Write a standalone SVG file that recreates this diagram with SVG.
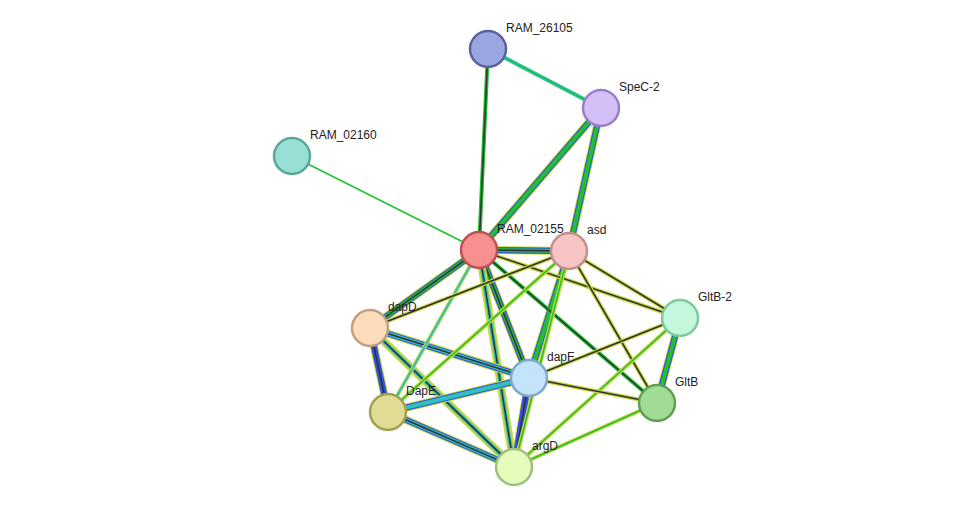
<svg xmlns="http://www.w3.org/2000/svg" width="976" height="513" viewBox="0 0 976 513">
<style>
.n{stroke-width:2.5}
text{font-family:"Liberation Sans",Arial,sans-serif;font-size:12px;fill:#222}
.a{stroke:#c8d840;stroke-width:8}
.b{stroke:#3050e0;stroke-width:6}
.c{stroke:#20c030;stroke-width:4}
.d{stroke:#303030;stroke-width:1.5}
.m{stroke:#d040d0;stroke-width:6}
.cy{stroke:#30c0c0;stroke-width:4}
.g{stroke:#20c030;stroke-width:1.5}
</style>
<g id="connectors" fill="none">
<line class="cy" x1="488" y1="49" x2="601" y2="108"/><line class="g" x1="488" y1="49" x2="601" y2="108"/>
<line class="c" x1="488" y1="49" x2="479" y2="250"/><line class="d" x1="488" y1="49" x2="479" y2="250"/>
<line class="g" x1="292" y1="156" x2="479" y2="250"/>
<g>
<line class="a" x1="601" y1="108" x2="479" y2="250"/><line class="b" x1="601" y1="108" x2="479" y2="250"/><line class="c" x1="601" y1="108" x2="479" y2="250"/>
<line class="a" x1="601" y1="108" x2="569" y2="251"/><line class="b" x1="601" y1="108" x2="569" y2="251"/><line class="c" x1="601" y1="108" x2="569" y2="251"/>
<line class="a" x1="479" y1="250" x2="569" y2="251"/><line class="m" x1="479" y1="250" x2="569" y2="251"/><line class="b" x1="479" y1="250" x2="569" y2="251"/><line class="c" x1="479" y1="250" x2="569" y2="251"/><line class="d" x1="479" y1="250" x2="569" y2="251"/>
<line class="a" x1="479" y1="250" x2="370" y2="328"/><line class="b" x1="479" y1="250" x2="370" y2="328"/><line class="c" x1="479" y1="250" x2="370" y2="328"/><line class="d" x1="479" y1="250" x2="370" y2="328"/>
<line class="a" x1="479" y1="250" x2="529" y2="378"/><line class="m" x1="479" y1="250" x2="529" y2="378"/><line class="b" x1="479" y1="250" x2="529" y2="378"/><line class="c" x1="479" y1="250" x2="529" y2="378"/><line class="d" x1="479" y1="250" x2="529" y2="378"/>
<line class="a" x1="479" y1="250" x2="514" y2="467"/><line class="cy" x1="479" y1="250" x2="514" y2="467"/><line class="d" x1="479" y1="250" x2="514" y2="467"/>
<line class="a" x1="569" y1="251" x2="529" y2="378"/><line class="b" x1="569" y1="251" x2="529" y2="378"/><line class="c" x1="569" y1="251" x2="529" y2="378"/>
<line class="a" x1="370" y1="328" x2="529" y2="378"/><line class="b" x1="370" y1="328" x2="529" y2="378"/><line class="cy" x1="370" y1="328" x2="529" y2="378"/><line class="d" x1="370" y1="328" x2="529" y2="378"/>
<line class="a" x1="370" y1="328" x2="388" y2="412"/><line class="b" x1="370" y1="328" x2="388" y2="412"/><line class="d" x1="370" y1="328" x2="388" y2="412"/>
<line class="a" x1="370" y1="328" x2="514" y2="467"/><line class="cy" x1="370" y1="328" x2="514" y2="467"/><line class="d" x1="370" y1="328" x2="514" y2="467"/>
<line class="a" x1="680" y1="318" x2="657" y2="403"/><line class="m" x1="680" y1="318" x2="657" y2="403"/><line class="b" x1="680" y1="318" x2="657" y2="403"/><line class="c" x1="680" y1="318" x2="657" y2="403"/>
<line class="a" x1="529" y1="378" x2="388" y2="412"/><line class="b" x1="529" y1="378" x2="388" y2="412"/><line class="cy" x1="529" y1="378" x2="388" y2="412"/>
<line class="a" x1="529" y1="378" x2="514" y2="467"/><line class="m" x1="529" y1="378" x2="514" y2="467"/><line class="b" x1="529" y1="378" x2="514" y2="467"/><line class="d" x1="529" y1="378" x2="514" y2="467"/>
<line class="a" x1="388" y1="412" x2="514" y2="467"/><line class="b" x1="388" y1="412" x2="514" y2="467"/><line class="cy" x1="388" y1="412" x2="514" y2="467"/><line class="d" x1="388" y1="412" x2="514" y2="467"/>
</g>
<g>
<line class="c" stroke-width="4" x1="479" y1="250" x2="388" y2="412" style="stroke:#c8d840"/><line class="cy" style="stroke-width:2" x1="479" y1="250" x2="388" y2="412"/>
<line class="c" x1="479" y1="250" x2="680" y2="318" style="stroke:#c8d840"/><line class="d" x1="479" y1="250" x2="680" y2="318"/>
<line class="c" x1="479" y1="250" x2="657" y2="403"/><line class="d" x1="479" y1="250" x2="657" y2="403"/>
<line class="c" x1="569" y1="251" x2="370" y2="328" style="stroke:#c8d840"/><line class="d" x1="569" y1="251" x2="370" y2="328"/>
<line class="c" x1="569" y1="251" x2="680" y2="318" style="stroke:#c8d840"/><line class="d" x1="569" y1="251" x2="680" y2="318"/>
<line class="c" x1="569" y1="251" x2="388" y2="412" style="stroke:#c8d840"/><line class="g" x1="569" y1="251" x2="388" y2="412"/>
<line class="c" x1="569" y1="251" x2="657" y2="403" style="stroke:#c8d840"/><line class="d" x1="569" y1="251" x2="657" y2="403"/>
<line class="c" x1="569" y1="251" x2="514" y2="467" style="stroke:#c8d840"/><line class="g" x1="569" y1="251" x2="514" y2="467"/>
<line class="c" x1="680" y1="318" x2="529" y2="378" style="stroke:#c8d840"/><line class="d" x1="680" y1="318" x2="529" y2="378"/>
<line class="c" x1="680" y1="318" x2="514" y2="467" style="stroke:#c8d840"/><line class="g" x1="680" y1="318" x2="514" y2="467"/>
<line class="c" x1="529" y1="378" x2="657" y2="403" style="stroke:#c8d840"/><line class="d" x1="529" y1="378" x2="657" y2="403"/>
<line class="c" x1="657" y1="403" x2="514" y2="467" style="stroke:#c8d840"/><line class="g" x1="657" y1="403" x2="514" y2="467"/>
</g>
</g>
<g id="RAM_26105"><circle class="n" cx="488" cy="49" r="18" fill="#9ba5e0" stroke="#5a63a0"/><text x="506" y="32">RAM_26105</text></g>
<g id="SpeC-2"><circle class="n" cx="601" cy="108" r="18" fill="#d4bff7" stroke="#9a80c8"/><text x="619" y="91">SpeC-2</text></g>
<g id="RAM_02160"><circle class="n" cx="292" cy="156" r="18" fill="#98e0d6" stroke="#5aa898"/><text x="310" y="139">RAM_02160</text></g>
<g id="RAM_02155"><circle class="n" cx="479" cy="250" r="18" fill="#f99090" stroke="#c05050"/><text x="497" y="233">RAM_02155</text></g>
<g id="asd"><circle class="n" cx="569" cy="251" r="18" fill="#f8c4c4" stroke="#c09090"/><text x="587" y="234">asd</text></g>
<g id="dapD"><circle class="n" cx="370" cy="328" r="18" fill="#fddcbc" stroke="#c0a080"/><text x="388" y="311">dapD</text></g>
<g id="GltB-2"><circle class="n" cx="680" cy="318" r="18" fill="#c4f8dc" stroke="#80c8a0"/><text x="698" y="301">GltB-2</text></g>
<g id="dapF"><circle class="n" cx="529" cy="378" r="18" fill="#c4e4fc" stroke="#80a8c8"/><text x="547" y="361">dapF</text></g>
<g id="DapE"><circle class="n" cx="388" cy="412" r="18" fill="#e0dc94" stroke="#a0a050"/><text x="406" y="395">DapE</text></g>
<g id="GltB"><circle class="n" cx="657" cy="403" r="18" fill="#a0dc94" stroke="#60a050"/><text x="675" y="386">GltB</text></g>
<g id="argD"><circle class="n" cx="514" cy="467" r="18" fill="#e4fcbc" stroke="#a0c080"/><text x="532" y="450">argD</text></g>
</svg>
